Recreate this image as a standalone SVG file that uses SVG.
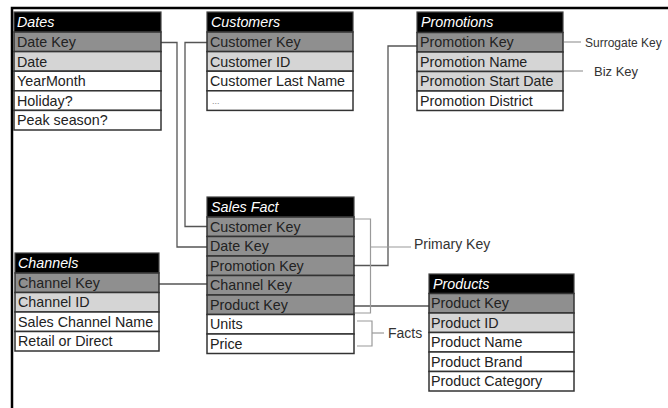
<svg xmlns="http://www.w3.org/2000/svg" width="668" height="408" viewBox="0 0 668 408">
<style>
.hd{fill:#000;stroke:#444;stroke-width:1.2}
.k{fill:#8f8f8f;stroke:#333;stroke-width:1.5}
.l{fill:#d5d5d5;stroke:#333;stroke-width:1.5}
.w{fill:#fff;stroke:#333;stroke-width:1.5}
text{font-family:"Liberation Sans",Arial,sans-serif;font-size:14.3px;fill:#222}
.ht{fill:#fff;font-style:italic}
.lb{font-size:14px;fill:#333}
.sm{font-size:13px;fill:#333}
.con{fill:none;stroke:#555;stroke-width:1.3}
.br{fill:none;stroke:#9a9a9a;stroke-width:1.2}
</style>
<rect x="0" y="0" width="668" height="408" fill="#fff"/>
<path d="M12 408 V8 H668" fill="none" stroke="#000" stroke-width="2.5"/>

<g id="connectors">
<path class="con" d="M161 42.5 H177 V247 H207"/>
<path class="con" d="M207 42.5 H185 V226.5 H207"/>
<path class="con" d="M417 46 H388 V265.5 H354"/>
<path class="con" d="M159 284 H207"/>
<path class="con" d="M354 306 H429"/>
<path class="br" d="M354 219 H370.5 V313 H354"/>
<path class="br" d="M370.5 247 H411"/>
<path class="br" d="M357 321 H372 V346 H357"/>
<path class="br" d="M372 333 H384"/>
<path class="br" d="M564 42 H581"/>
<path class="br" d="M564 71 H583"/>
</g>

<g id="dates">
<rect class="hd" x="14" y="12" width="147" height="20"/>
<text class="ht" x="17" y="27">Dates</text>
<rect class="k" x="14" y="32" width="147" height="19.6"/>
<text x="17" y="47">Date Key</text>
<rect class="l" x="14" y="51.6" width="147" height="19.6"/>
<text x="17" y="66.5">Date</text>
<rect class="w" x="14" y="71.2" width="147" height="19.6"/>
<text x="17" y="86">YearMonth</text>
<rect class="w" x="14" y="90.8" width="147" height="19.6"/>
<text x="17" y="105.5">Holiday?</text>
<rect class="w" x="14" y="110.4" width="147" height="19.6"/>
<text x="17" y="125">Peak season?</text>
</g>

<g id="customers">
<rect class="hd" x="207" y="12" width="146" height="20"/>
<text class="ht" x="211" y="27">Customers</text>
<rect class="k" x="207" y="32" width="146" height="19.6"/>
<text x="210" y="47">Customer Key</text>
<rect class="l" x="207" y="51.6" width="146" height="19.6"/>
<text x="210" y="66.5">Customer ID</text>
<rect class="w" x="207" y="71.2" width="146" height="19.6"/>
<text x="210" y="86">Customer Last Name</text>
<rect class="w" x="207" y="90.8" width="146" height="19.6"/>
<text x="212" y="104" style="font-size:9px;fill:#888">...</text>
</g>

<g id="promotions">
<rect class="hd" x="417" y="12" width="146" height="20.5"/>
<text class="ht" x="421" y="27">Promotions</text>
<rect class="k" x="417" y="32.5" width="146" height="19.5"/>
<text x="420" y="47">Promotion Key</text>
<rect class="l" x="417" y="52" width="146" height="19.5"/>
<text x="420" y="66.5">Promotion Name</text>
<rect class="l" x="417" y="71.5" width="146" height="19.5"/>
<text x="420" y="86">Promotion Start Date</text>
<rect class="w" x="417" y="91" width="146" height="19.5"/>
<text x="420" y="105.5">Promotion District</text>
</g>

<g id="salesfact">
<rect class="hd" x="207" y="197" width="147" height="20"/>
<text class="ht" x="211" y="212">Sales Fact</text>
<rect class="k" x="207" y="217" width="147" height="19.5"/>
<text x="210" y="231.5">Customer Key</text>
<rect class="k" x="207" y="236.5" width="147" height="19.5"/>
<text x="210" y="251">Date Key</text>
<rect class="k" x="207" y="256" width="147" height="19.5"/>
<text x="210" y="270.5">Promotion Key</text>
<rect class="k" x="207" y="275.5" width="147" height="19.5"/>
<text x="210" y="290">Channel Key</text>
<rect class="k" x="207" y="295" width="147" height="19.5"/>
<text x="210" y="309.5">Product Key</text>
<rect class="w" x="207" y="314.5" width="147" height="19.5"/>
<text x="210" y="329">Units</text>
<rect class="w" x="207" y="334" width="147" height="19.5"/>
<text x="210" y="348.5">Price</text>
</g>

<g id="channels">
<rect class="hd" x="15" y="253" width="144" height="20"/>
<text class="ht" x="18" y="268">Channels</text>
<rect class="k" x="15" y="273" width="144" height="19.5"/>
<text x="18" y="287.5">Channel Key</text>
<rect class="l" x="15" y="292.5" width="144" height="19.5"/>
<text x="18" y="307">Channel ID</text>
<rect class="w" x="15" y="312" width="144" height="19.5"/>
<text x="18" y="326.5">Sales Channel Name</text>
<rect class="w" x="15" y="331.5" width="144" height="19.5"/>
<text x="18" y="346">Retail or Direct</text>
</g>

<g id="products">
<rect class="hd" x="429" y="274" width="145" height="19.5"/>
<text class="ht" x="433" y="288.5">Products</text>
<rect class="k" x="429" y="293.5" width="145" height="19.5"/>
<text x="431" y="308">Product Key</text>
<rect class="l" x="429" y="313" width="145" height="19.5"/>
<text x="431" y="327.5">Product ID</text>
<rect class="w" x="429" y="332.5" width="145" height="19.5"/>
<text x="431" y="347">Product Name</text>
<rect class="w" x="429" y="352" width="145" height="19.5"/>
<text x="431" y="366.5">Product Brand</text>
<rect class="w" x="429" y="371.5" width="145" height="19.5"/>
<text x="431" y="386">Product Category</text>
</g>

<g id="labels">
<text class="lb" x="414" y="249">Primary Key</text>
<text class="lb" x="388" y="338">Facts</text>
<text x="585" y="46.5" style="font-size:12px;fill:#333">Surrogate Key</text>
<text class="sm" x="594" y="76">Biz Key</text>
</g>
</svg>
